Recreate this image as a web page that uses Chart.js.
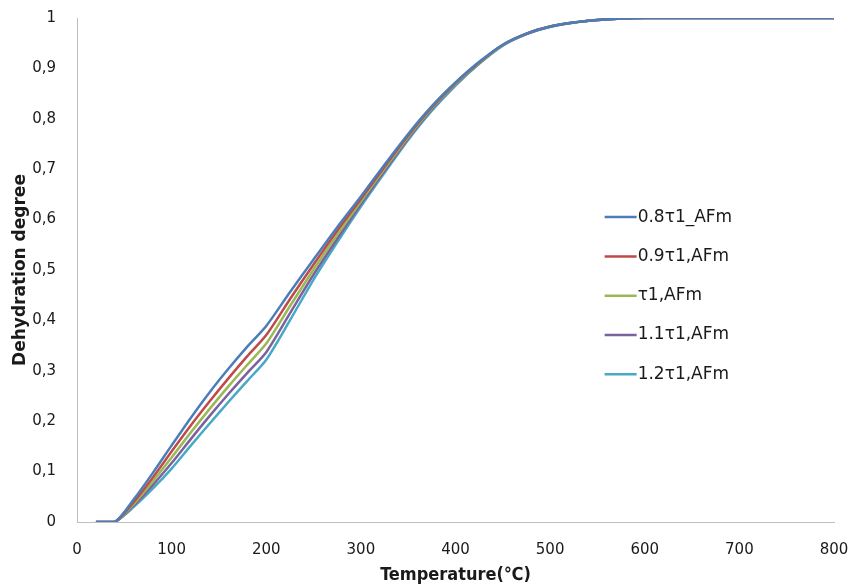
<!DOCTYPE html>
<html>
<head>
<meta charset="utf-8">
<script src="https://cdn.jsdelivr.net/npm/chart.js@4/dist/chart.umd.min.js"></script>
<style>
  html, body { margin: 0; padding: 0; background: #fff; }
  #wrap { width: 850px; height: 584px; position: relative; }
</style>
</head>
<body>
<div id="wrap"><canvas id="dehydChart"></canvas></div>
<script>
// temperatures (°C) where each curve was sampled
let temperature = [20, 40, 60, 80, 100, 120, 140, 160, 180, 200, 225, 250, 275, 300, 325, 350, 375, 400, 425, 450, 475, 500, 525, 550, 575, 600, 700, 800];

let deg08 = [0, 0, 0.045, 0.097, 0.152, 0.206, 0.257, 0.304, 0.348, 0.389, 0.456, 0.521, 0.585, 0.646, 0.709, 0.770, 0.825, 0.872, 0.913, 0.947, 0.969, 0.983, 0.991, 0.996, 0.999, 1, 1, 1];
let deg09 = [0, 0, 0.040, 0.088, 0.140, 0.191, 0.239, 0.285, 0.329, 0.371, 0.442, 0.511, 0.578, 0.641, 0.705, 0.767, 0.823, 0.871, 0.912, 0.947, 0.969, 0.983, 0.991, 0.996, 0.999, 1, 1, 1];
let deg10 = [0, 0, 0.036, 0.080, 0.128, 0.177, 0.224, 0.269, 0.312, 0.354, 0.428, 0.501, 0.570, 0.636, 0.701, 0.764, 0.821, 0.869, 0.911, 0.946, 0.969, 0.983, 0.991, 0.996, 0.999, 1, 1, 1];
let deg11 = [0, 0, 0.033, 0.073, 0.117, 0.164, 0.210, 0.254, 0.296, 0.337, 0.414, 0.491, 0.562, 0.631, 0.697, 0.761, 0.819, 0.868, 0.910, 0.946, 0.968, 0.983, 0.991, 0.996, 0.999, 1, 1, 1];
let deg12 = [0, 0, 0.030, 0.066, 0.106, 0.151, 0.195, 0.238, 0.280, 0.322, 0.400, 0.481, 0.555, 0.626, 0.693, 0.758, 0.816, 0.866, 0.909, 0.945, 0.968, 0.982, 0.991, 0.996, 0.999, 1, 1, 1];

let seriesNames = ["0.8τ1_AFm", "0.9τ1,AFm", "τ1,AFm", "1.1τ1,AFm", "1.2τ1,AFm"];
let seriesColors = ["#4a7ebb", "#be4b48", "#98b954", "#7d60a0", "#46aac5"];
let seriesValues = [deg08, deg09, deg10, deg11, deg12];

let xTicks = [0, 100, 200, 300, 400, 500, 600, 700, 800];

let toPoints = (vals) => vals.map((v, i) => ({ x: temperature[i], y: v }));

// legend drawn inside the plot, right of the curves
const insideLegend = {
  id: "insideLegend",
  afterDraw(chart) {
    let ctx = chart.ctx;
    let area = chart.chartArea;
    let x0 = area.left + 0.697 * (area.right - area.left);
    let y0 = area.top + 0.395 * (area.bottom - area.top);
    ctx.save();
    ctx.font = "17px 'DejaVu Sans', Verdana, sans-serif";
    ctx.textBaseline = "middle";
    chart.data.datasets.forEach((ds, i) => {
      let y = y0 + i * 39.3;
      ctx.strokeStyle = ds.borderColor;
      ctx.lineWidth = 2.5;
      ctx.beginPath();
      ctx.moveTo(x0, y);
      ctx.lineTo(x0 + 32, y);
      ctx.stroke();
      ctx.fillStyle = "#1a1a1a";
      ctx.fillText(ds.label, x0 + 33, y);
    });
    ctx.restore();
  },
};

const dehydChart = new Chart(document.getElementById("dehydChart").getContext("2d"), {
  type: "line",
  data: {
    datasets: seriesValues.map((vals, i) => ({
      label: seriesNames[i],
      data: toPoints(vals),
      borderColor: seriesColors[i],
      backgroundColor: seriesColors[i],
      borderWidth: 2.5,
      pointRadius: 0,
      tension: 0.25,
      fill: false,
    })),
  },
  options: {
    responsive: true,
    maintainAspectRatio: false,
    animation: false,
    layout: { padding: { top: 18, right: 16, left: 0, bottom: 0 } },
    plugins: {
      legend: { display: false },
      tooltip: { enabled: false },
    },
    scales: {
      x: {
        type: "linear",
        min: 0,
        max: 800,
        afterBuildTicks: (axis) => {
          axis.ticks = xTicks.map((v) => ({ value: v }));
        },
        afterFit: (axis) => {
          axis.height = 62;
          axis.paddingLeft = 0;
          axis.paddingRight = 0;
        },
        grid: { display: false, drawTicks: false },
        border: { display: true, color: "#bfbfbf", width: 1 },
        ticks: {
          padding: 19,
          maxRotation: 0,
          color: "#1a1a1a",
          font: { family: "'DejaVu Sans', Verdana, sans-serif", size: 15 },
        },
        title: {
          display: true,
          text: "Temperature(℃)",
          color: "#1a1a1a",
          padding: { top: 0, bottom: -2 },
          font: { family: "'DejaVu Sans Condensed', 'Liberation Sans Narrow', sans-serif", size: 18, weight: "bold" },
        },
      },
      y: {
        min: 0,
        max: 1,
        afterFit: (axis) => {
          axis.width = 77;
          axis.paddingTop = 0;
          axis.paddingBottom = 0;
        },
        grid: { display: false, drawTicks: false },
        border: { display: true, color: "#bfbfbf", width: 1 },
        ticks: {
          stepSize: 0.1,
          padding: 21,
          color: "#1a1a1a",
          font: { family: "'DejaVu Sans', Verdana, sans-serif", size: 15 },
          callback: (v) => String(Math.round(v * 10) / 10).replace(".", ","),
        },
        title: {
          display: true,
          text: "Dehydration degree",
          color: "#1a1a1a",
          padding: { top: 10, bottom: 0 },
          font: { family: "'DejaVu Sans', Verdana, sans-serif", size: 17, weight: "bold" },
        },
      },
    },
  },
  plugins: [insideLegend],
});
</script>
</body>
</html>
